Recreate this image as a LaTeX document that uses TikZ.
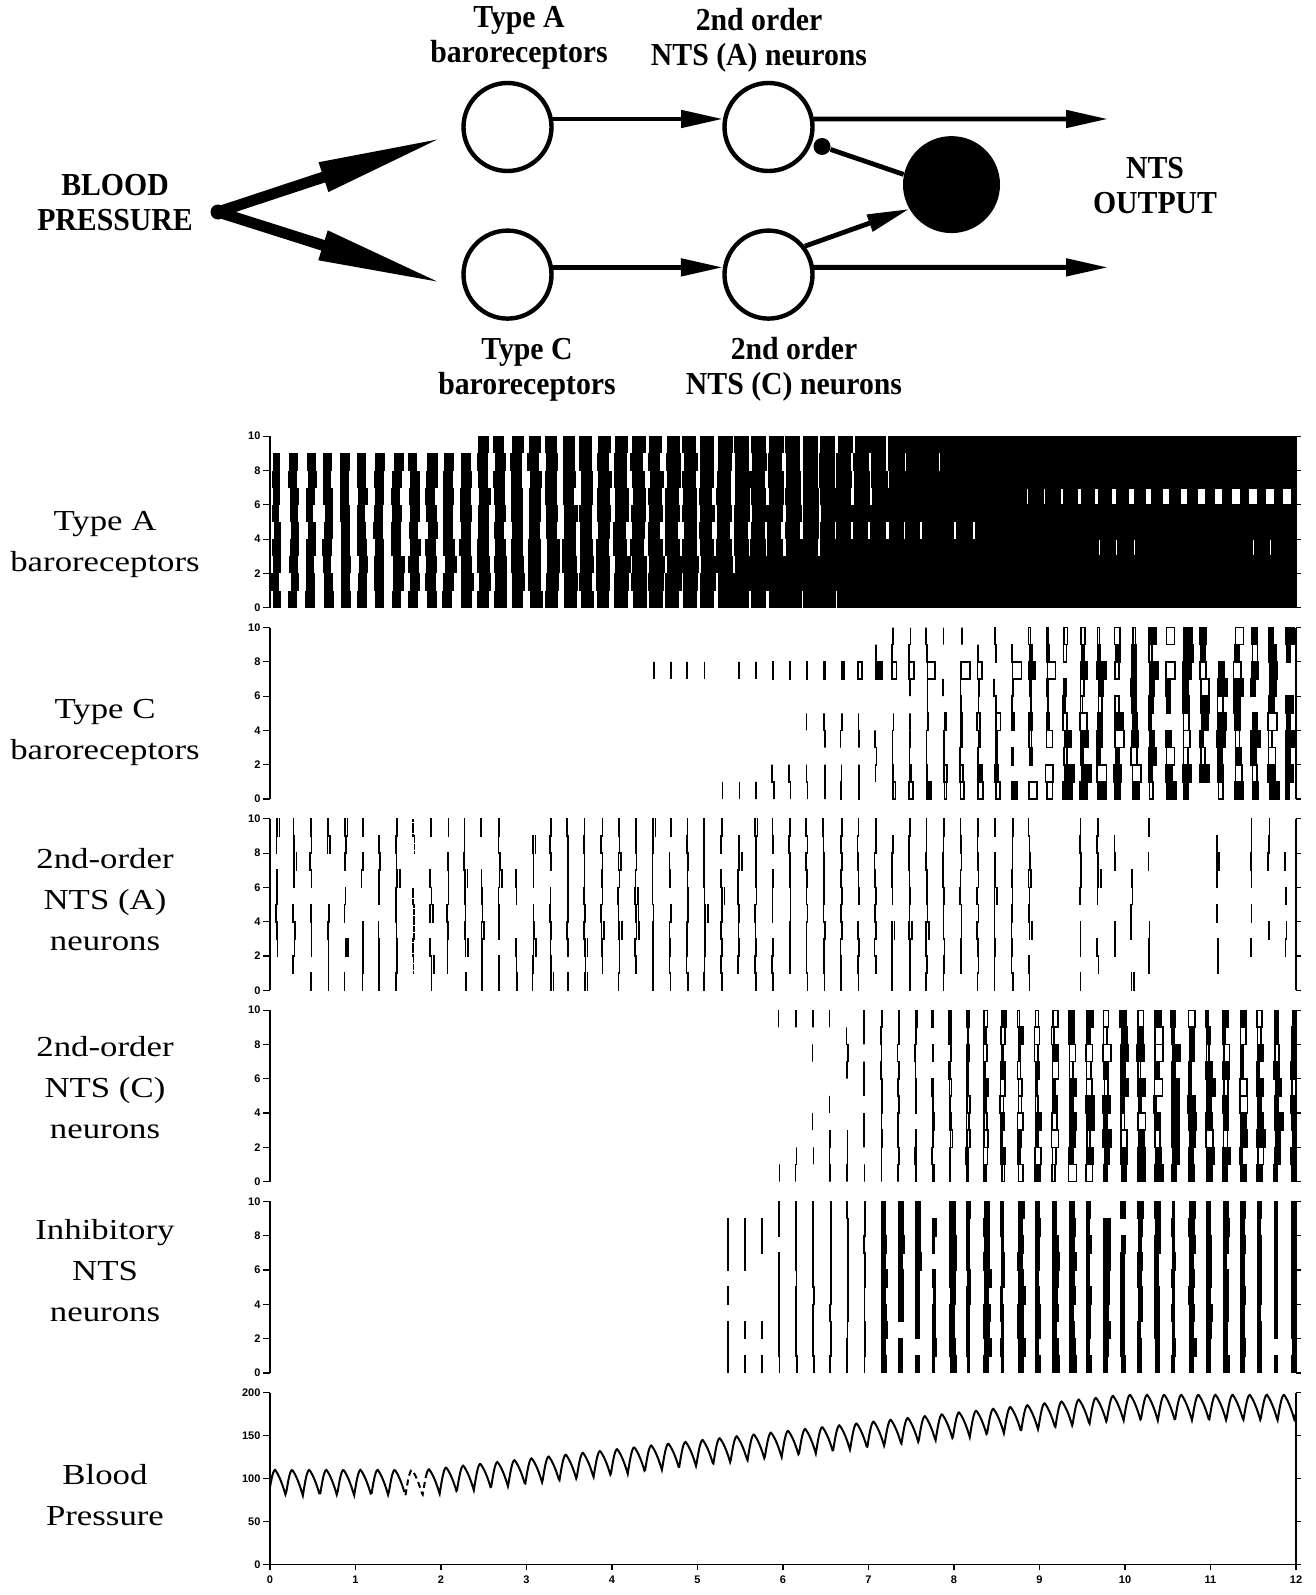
\documentclass[tikz,border=0pt]{standalone}
\usepackage{fontspec}
\setmainfont{Liberation Serif}
\newfontfamily\headfont[FakeStretch=0.93]{Liberation Serif}
\newfontfamily\sidefont[FakeStretch=1.2]{Liberation Serif}
\newfontfamily\tickfont{Liberation Sans}
\usetikzlibrary{arrows.meta, positioning}
\tikzset{
cell/.style={circle, draw, line width=2.2pt, minimum size=44pt, inner sep=0pt},
inhcell/.style={circle, fill, minimum size=48.5pt, inner sep=0pt},
syn/.style={circle, fill, minimum size=8.5pt, inner sep=0pt},
conn/.style={line width=2.4pt, -{Triangle[length=21pt,width=8.5pt]}},
bpline/.style={line width=5.5pt, -{Triangle[length=64pt,width=14pt]}},
head/.style={font=\headfont\bfseries\fontsize{16}{17.5}\selectfont, align=center},
side/.style={font=\sidefont\fontsize{14.5}{20.5}\selectfont, align=center},
ticklbl/.style={font=\tickfont\bfseries\fontsize{5.5}{6}\selectfont, inner sep=1pt},
axisline/.style={line width=0.6pt},
spike/.style={line width=0.8pt, line cap=rect},
bptrace/.style={line width=1pt},
declare function={
  bpmean(\tm)=min(182.5,max(95,95+10.7*(\tm-1.8)));
  bpph(\tm)=frac((\tm+0.14)/0.2);
  bpwave(\ph)=ifthenelse(\ph<0.62,15-30*(\ph/0.62)*(0.55+0.45*\ph/0.62),-15+30*sin(90*(\ph-0.62)/0.38));
  bp(\tm)=bpmean(\tm)+bpwave(bpph(\tm));
},
}
% onset times of the single neurons (s)
\newcommand{\onsetC}{{5.25,5.85,6.9,6.45,6.2,7.5,7.3,4.4,7.05,7.1}}
\newcommand{\onsetNC}{{5.3,5.65,5.9,6.25,5.9,6.5,6.3,5.95,6.5,5.9}}
\newcommand{\rasteraxes}{%
  \draw[axisline] (0,0) -- (0,10) (12,0) -- (12,10);
  \foreach \v in {0,2,...,10} {
    \draw[axisline] (0,\v) -- ++(-3.5pt,0) node[left, ticklbl] {\v};
    \draw[axisline] (12,\v) -- ++(2.5pt,0);
  }}
% one neuron in one cycle, joined to the neuron below
\newcommand{\spikecell}[1]{%
  \ifnum\fired=1
    #1
    \ifnum\prevon=1 \draw[spike] (\prevs,\nrn) -- (\tsp,\nrn) (\preve,\nrn) -- (\esp,\nrn); \fi
    \xdef\prevs{\tsp}\xdef\preve{\esp}\gdef\prevon{1}%
  \else
    \gdef\prevon{0}%
  \fi}

\begin{document}
\begin{tikzpicture}[x=0.5pt, y=-0.5pt]
\useasboundingbox (0,0) rectangle (1316,1595);

% network
\node[cell] (ta) at (507.5,127) {};
\node[cell] (na) at (768.5,127) {};
\node[cell] (tc) at (507.5,274.6) {};
\node[cell] (nc) at (768.5,274.6) {};
\node[inhcell] (inh) at (951.5,184.6) {};
\node[syn] (syn) at (822,146.5) {};
\node[syn, minimum size=7.5pt] (bp) at (218,212) {};
\coordinate (bpA) at (445,137);
\coordinate (bpC) at (445,284);
\coordinate (outA) at (1108,119);
\coordinate (outC) at (1108,267.4);

\draw[bpline] (bp.center) -- (bpA);
\draw[bpline] (bp.center) -- (bpC);
\draw[conn] (ta.10) -- (na.170);
\draw[conn] (tc.9) -- (nc.171);
\draw[conn] (na.10) -- (outA);
\draw[conn] (nc.9) -- (outC);
\draw[line width=2.4pt] (syn) -- (inh.168);
\draw[conn] (nc.38) -- (inh.210);

\node[head] (lblTA) at (519,38) {Type A\\baroreceptors};
\node[head] (lblNA) at (759,40) {2nd order\\NTS (A) neurons};
\node[head] (lblBP) at (115,202.5) {BLOOD\\PRESSURE};
\node[head] (lblOut) at (1155,186) {NTS\\OUTPUT};
\node[head] (lblTC) at (527,369.5) {Type C\\baroreceptors};
\node[head] (lblNC) at (794,369.5) {2nd order\\NTS (C) neurons};

% row labels
\node[side] (sideTA) at (105,544.5) {Type A\\baroreceptors};
\node[side] (sideTC) at (105,732.5) {Type C\\baroreceptors};
\node[side] (sideNA) at (105,900) {2nd-order\\NTS (A)\\neurons};
\node[side] (sideNC) at (105,1088) {2nd-order\\NTS (C)\\neurons};
\node[side] (sideInh) at (105,1271) {Inhibitory\\NTS\\neurons};
\node[side] (sideBP) at (105,1495.5) {Blood\\Pressure};

% Type A baroreceptors
\begin{scope}[shift={(270,607.7)}, x=42.75pt, y=8.575pt]
  \begin{scope}
    \clip (0,0) rectangle (12,10);
    \pgfmathsetseed{7}
    \foreach \nrn/\onset/\sat in {0/0/7.0, 1/0/5.6, 2/0/5.5, 3/0/6.5, 4/0/8.5, 5/0/6.8, 6/0/7.6, 7/0/7.5, 8/0/8.2, 9/2.27/7.8} {
      \foreach \cy in {0,...,59} {
        \pgfmathsetmacro\tsp{0.2*\cy+0.01+0.035*rnd}
        \pgfmathsetmacro\wsp{0.2*(0.42+0.55*\tsp/\sat)+0.02*rnd}
        \ifdim\tsp pt<\sat pt \ifdim\tsp pt>\onset pt
          \fill (\tsp,\nrn) rectangle (\tsp+\wsp,\nrn+1);
        \fi\fi
      }
      \fill (\sat,\nrn) rectangle (12,\nrn+1);
    }
    \foreach \cy in {44,...,59} {
      \pgfmathsetmacro\tsp{0.2*\cy+0.05}
      \pgfmathsetmacro\wsp{min(0.09,0.012+(\tsp-8.9)*0.035)}
      \fill[white] (\tsp,6.05) rectangle (\tsp+\wsp,6.95);
    }
    \foreach \cy in {46,...,58} {
      \pgfmathsetmacro\psp{rnd}
      \ifdim\psp pt<0.55pt
        \fill[white] (0.2*\cy+0.1,3.05) rectangle ++(0.012,0.9);
      \fi
    }
  \end{scope}
  \rasteraxes
\end{scope}

% Type C baroreceptors
\begin{scope}[shift={(270,799)}, x=42.75pt, y=8.575pt]
  \begin{scope}
    \clip (0,0) rectangle (12,10);
    \pgfmathsetseed{31}
    \foreach \cy in {21,...,59} {
      \gdef\prevon{0}
      \foreach \nrn in {0,...,9} {
        \pgfmathsetmacro\onset{\onsetC[\nrn]}
        \pgfmathsetmacro\tsp{0.2*\cy+0.07+0.025*rnd}
        \pgfmathsetmacro\wsp{max(0,min(0.075,(\tsp-\onset-1.3)*0.035))*(0.5+rnd)}
        \pgfmathsetmacro\esp{\tsp+\wsp}
        \pgfmathsetmacro\psp{rnd}
        \pgfmathsetmacro\fsp{rnd}
        \pgfmathsetmacro\fq{min(0.85,max(0.3,0.3+(\tsp-8)*0.2))}
        \def\fired{0}
        \ifdim\tsp pt>\onset pt \ifdim\psp pt<0.9pt \def\fired{1}\fi\fi
        \spikecell{\ifdim\fsp pt<\fq pt
            \filldraw[spike] (\tsp,\nrn) rectangle (\esp,\nrn+1);
          \else
            \draw[spike] (\tsp,\nrn) rectangle (\esp,\nrn+1);
          \fi}
      }
    }
  \end{scope}
  \rasteraxes
\end{scope}

% 2nd-order NTS (A) neurons
\begin{scope}[shift={(270,990.3)}, x=42.75pt, y=8.575pt]
  \begin{scope}
    \clip (0,0) rectangle (12,10);
    \pgfmathsetseed{23}
    \foreach \cy in {0,...,59} {
      \gdef\prevon{0}
      \pgfmathsetmacro\drop{rnd}
      \pgfmathsetmacro\qcol{ifthenelse(0.2*\cy>8.8,ifthenelse(\drop<0.4,0,0.55),ifthenelse(0.2*\cy>3,0.9,0.8))}
      \foreach \nrn in {0,...,9} {
        \pgfmathsetmacro\tsp{0.2*\cy+0.07+0.02*rnd}
        \let\esp\tsp
        \pgfmathsetmacro\psp{rnd}
        \pgfmathsetmacro\dsp{rnd}
        \def\fired{0}
        \ifdim\psp pt<\qcol pt \def\fired{1}\fi
        \spikecell{\ifnum\cy=8
            \draw[spike, densely dotted] (\tsp,\nrn) -- (\tsp,\nrn+1);
          \else
            \draw[spike] (\tsp,\nrn) -- (\tsp,\nrn+1);
            \ifdim\dsp pt<0.08pt \draw[spike] (\tsp+0.03,\nrn) -- (\tsp+0.03,\nrn+1); \fi
          \fi}
      }
    }
  \end{scope}
  \rasteraxes
\end{scope}

% 2nd-order NTS (C) neurons
\begin{scope}[shift={(270,1181.6)}, x=42.75pt, y=8.575pt]
  \begin{scope}
    \clip (0,0) rectangle (12,10);
    \pgfmathsetseed{47}
    \foreach \cy in {25,...,59} {
      \gdef\prevon{0}
      \foreach \nrn in {0,...,9} {
        \pgfmathsetmacro\onset{\onsetNC[\nrn]}
        \pgfmathsetmacro\tsp{0.2*\cy+0.14+0.02*rnd}
        \pgfmathsetmacro\wsp{max(0,min(0.07,(\tsp-7.4)*0.035))*(0.4+rnd)}
        \pgfmathsetmacro\esp{\tsp+\wsp}
        \pgfmathsetmacro\psp{rnd}
        \pgfmathsetmacro\qsp{min(1,0.3+(\tsp-\onset)*0.45)}
        \pgfmathsetmacro\fsp{rnd}
        \pgfmathsetmacro\fq{min(0.8,max(0.3,0.3+(\tsp-8)*0.2))}
        \def\fired{0}
        \ifdim\tsp pt>\onset pt \ifdim\psp pt<\qsp pt \def\fired{1}\fi\fi
        \spikecell{\ifdim\fsp pt<\fq pt
            \filldraw[spike] (\tsp,\nrn) rectangle (\esp,\nrn+1);
          \else
            \draw[spike] (\tsp,\nrn) rectangle (\esp,\nrn+1);
          \fi}
      }
    }
  \end{scope}
  \rasteraxes
\end{scope}

% Inhibitory NTS neurons
\begin{scope}[shift={(270,1372.9)}, x=42.75pt, y=8.575pt]
  \begin{scope}
    \clip (0,0) rectangle (12,10);
    \pgfmathsetseed{59}
    \foreach \cy in {26,...,59} {
      \pgfmathsetmacro\tcol{0.2*\cy+0.15}
      \pgfmathsetmacro\wcol{ifthenelse(\tcol<7,0.004,0.02+0.05*rnd)}
      \pgfmathsetmacro\qcol{ifthenelse(\tcol<5.8,0.45,0.97)}
      \foreach \nrn in {0,...,9} {
        \pgfmathsetmacro\tsp{\tcol+0.008*rnd}
        \pgfmathsetmacro\wsp{\wcol*(0.7+0.6*rnd)}
        \pgfmathsetmacro\psp{rnd}
        \ifdim\psp pt<\qcol pt
          \filldraw[spike] (\tsp,\nrn) rectangle (\tsp+\wsp,\nrn+1);
        \fi
      }
    }
  \end{scope}
  \rasteraxes
\end{scope}

% Blood pressure
\begin{scope}[shift={(270,1564.2)}, x=42.75pt, y=8.575pt]
  \draw[bptrace] plot[domain=0:1.55, samples=130] (\x,{bp(\x)/20});
  \draw[bptrace, densely dashed] plot[domain=1.55:1.82, samples=25] (\x,{bp(\x)/20});
  \draw[bptrace] plot[domain=1.82:12, samples=1300] (\x,{bp(\x)/20});
  \draw[axisline] (0,10) -- (0,0) -- (12,0) -- (12,10);
  \foreach \v/\lab in {0/0, 2.5/50, 5/100, 7.5/150, 10/200} {
    \draw[axisline] (0,\v) -- ++(-3.5pt,0) node[left, ticklbl] {\lab};
    \draw[axisline] (12,\v) -- ++(2.5pt,0);
  }
  \foreach \v in {0,...,12}
    \draw[axisline] (\v,0) -- ++(0,-3pt) node[below, ticklbl, inner sep=2.5pt] {\v};
\end{scope}
\end{tikzpicture}
\end{document}
